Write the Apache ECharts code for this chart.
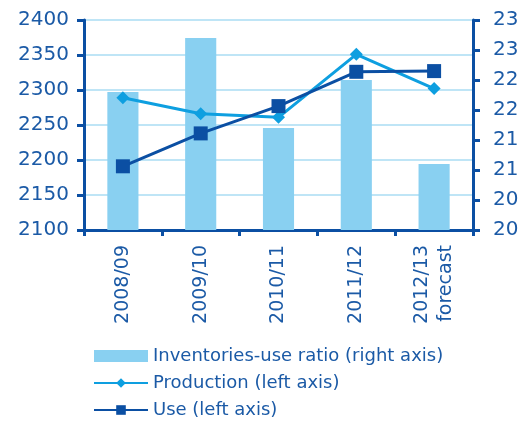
<!DOCTYPE html>
<html>
<head>
<meta charset="utf-8">
<script src="https://cdn.jsdelivr.net/npm/echarts@6/dist/echarts.min.js"></script>
<style>
  html, body { margin: 0; padding: 0; background: #ffffff; }
  #chart { width: 523px; height: 425px; }
</style>
</head>
<body>
<div id="chart"></div>
<script>
// Marketing years on the category axis
var seasons = ['2008/09', '2009/10', '2010/11', '2011/12', '2012/13\nforecast'];
// Inventories-use ratio, read on the right axis
var ratio = [21.8, 22.7, 21.2, 22.0, 20.6];
// Production and use, read on the left axis
var production = [2289, 2266, 2261, 2351, 2302];
var use = [2191, 2238, 2277, 2326, 2327];

var dark = '#0b4fa3';
var textColor = '#1b5aa6';
var font = 'DejaVu Sans';

var chart = echarts.init(document.getElementById('chart'), null, { renderer: 'canvas' });

chart.setOption({
  animation: false,
  backgroundColor: '#ffffff',
  grid: { left: 84, right: 50, top: 20, bottom: 195, containLabel: false, outerBoundsMode: 'none' },
  legend: {
    orient: 'vertical',
    left: 93,
    top: 347,
    padding: 0,
    height: 78,
    itemWidth: 54,
    itemHeight: 12,
    itemGap: 9,
    textStyle: { color: textColor, fontFamily: font, fontSize: 18, lineHeight: 18 },
    data: [
      { name: 'Inventories-use ratio (right axis)', icon: 'rect' },
      'Production (left axis)',
      'Use (left axis)'
    ]
  },
  xAxis: {
    type: 'category',
    data: seasons,
    axisLine: { lineStyle: { color: dark, width: 3 } },
    axisTick: { show: true, length: 6, lineStyle: { color: dark, width: 3 } },
    axisLabel: {
      rotate: 90,
      margin: 15,
      color: textColor,
      fontFamily: font,
      fontSize: 19,
      lineHeight: 24
    }
  },
  yAxis: [
    {
      type: 'value',
      min: 2100,
      max: 2400,
      interval: 50,
      position: 'left',
      axisLine: { show: true, lineStyle: { color: dark, width: 3 } },
      axisTick: { show: true, length: 7, lineStyle: { color: dark, width: 3 } },
      axisLabel: {
        color: textColor, fontFamily: font, fontSize: 20, margin: 15,
        formatter: function (v) { return String(v); }
      },
      splitLine: { show: true, lineStyle: { color: '#bfe5f6', width: 2 } }
    },
    {
      type: 'value',
      min: 19.5,
      max: 23,
      interval: 0.5,
      position: 'right',
      axisLine: { show: true, lineStyle: { color: dark, width: 3 } },
      axisTick: { show: true, length: 7, lineStyle: { color: dark, width: 3 } },
      axisLabel: {
        color: textColor, fontFamily: font, fontSize: 20, margin: 20,
        formatter: function (v) { return String(Math.round(v)); }
      },
      splitLine: { show: false }
    }
  ],
  series: [
    {
      name: 'Inventories-use ratio (right axis)',
      type: 'bar',
      yAxisIndex: 1,
      data: ratio,
      barWidth: '40%',
      itemStyle: { color: '#89d0f1' },
      z: 1
    },
    {
      name: 'Production (left axis)',
      type: 'line',
      yAxisIndex: 0,
      data: production,
      symbol: 'diamond',
      symbolSize: 13,
      lineStyle: { color: '#0e9fe0', width: 3 },
      itemStyle: { color: '#0e9fe0' },
      z: 3
    },
    {
      name: 'Use (left axis)',
      type: 'line',
      yAxisIndex: 0,
      data: use,
      symbol: 'rect',
      symbolSize: 14,
      lineStyle: { color: dark, width: 3 },
      itemStyle: { color: dark },
      z: 4
    }
  ]
});
</script>
</body>
</html>
